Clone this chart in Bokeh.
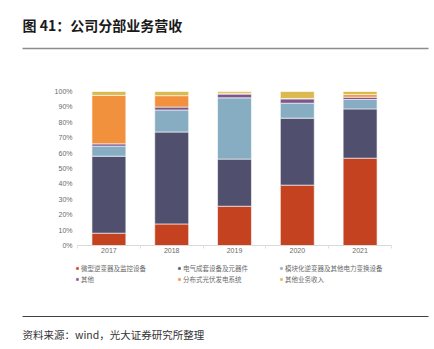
from bokeh.plotting import figure
from bokeh.models import (Range1d, Label, Legend, LegendItem, LinearAxis,
                          PrintfTickFormatter, FixedTicker)
from bokeh.embed import file_html
from bokeh.resources import INLINE

# ---- data ----
years = [2017, 2018, 2019, 2020, 2021]
series_names = ["微型逆变器及监控设备", "电气成套设备及元器件", "模块化逆变器及其他电力变换设备",
                "其他", "分布式光伏发电系统", "其他业务收入"]
micro_inverter = [8.0, 14.0, 25.5, 39.2, 56.7]
electrical = [50.0, 59.7, 30.6, 43.5, 32.0]
modular = [6.5, 14.3, 39.8, 9.7, 6.1]
other = [1.5, 1.9, 2.4, 2.8, 1.5]
pv_system = [31.5, 7.4, 0.6, 0.3, 1.7]
other_income = [2.5, 2.7, 1.1, 4.5, 2.0]
y_ticks = [0, 10, 20, 30, 40, 50, 60, 70, 80, 90, 100]

colors = ["#C4421F", "#50506E", "#86ADC1", "#7D568B", "#F1913E", "#DCB94E"]
keys = ["s0", "s1", "s2", "s3", "s4", "s5"]
source = dict(year=years, s0=micro_inverter, s1=electrical, s2=modular,
              s3=other, s4=pv_system, s5=other_income)

CJK = "Noto Sans CJK SC"
W, H = 434, 349
LABEL_GRAY = "#6a6a6a"

# plot area placement (page pixels): categories span x 77..391, 0%..100% span y 245..91
px_per_cat = (391 - 77) / len(years)
x_start = years[0] - 0.5 - 77 / px_per_cat
x_end = years[-1] + 0.5 + (W - 391) / px_per_cat
px_per_pct = (245 - 91) / 100
y_start = -(H - 245) / px_per_pct
y_end = 100 + 91 / px_per_pct

p = figure(width=W, height=H, x_range=Range1d(x_start, x_end),
           y_range=Range1d(y_start, y_end), output_backend="svg",
           toolbar_location=None, min_border=0,
           x_axis_location=None, y_axis_location=None)
p.outline_line_color = None
p.grid.visible = False
p.extra_x_ranges = {"px": Range1d(0, W)}
p.extra_y_ranges = {"py": Range1d(H, 0)}

rs = p.vbar_stack(keys, x="year", width=0.54, color=colors, source=source,
                  line_color="white", line_width=0.6)

# baseline of the category axis
left_edge = years[0] - 0.5
right_edge = years[-1] + 0.5
p.segment(x0=[left_edge], y0=[0], x1=[right_edge], y1=[0], line_color="#d9d9d9", line_width=1)

# y axis
yax = LinearAxis(fixed_location=left_edge, ticker=FixedTicker(ticks=y_ticks),
                 formatter=PrintfTickFormatter(format="%d%%"))
yax.axis_line_color = None
yax.major_tick_line_color = None
yax.major_tick_in = 0
yax.major_tick_out = 0
yax.minor_tick_line_color = None
yax.major_label_text_font_size = "7px"
yax.major_label_text_color = LABEL_GRAY
yax.major_label_standoff = 5
p.add_layout(yax, "left")

# x axis (labels)
xax = LinearAxis(fixed_location=0, ticker=FixedTicker(ticks=years))
xax.axis_line_color = None
xax.major_tick_line_color = None
xax.major_tick_in = 0
xax.major_tick_out = 0
xax.minor_tick_line_color = None
xax.major_label_text_font_size = "7px"
xax.major_label_text_color = LABEL_GRAY
xax.major_label_standoff = 2
p.add_layout(xax, "below")

# x axis boundary tick marks
bounds = [y - 0.5 for y in years] + [right_edge]
tax = LinearAxis(fixed_location=0, ticker=FixedTicker(ticks=bounds))
tax.axis_line_color = None
tax.major_tick_line_color = "#e0e0e0"
tax.major_tick_in = 0
tax.major_tick_out = 3
tax.minor_tick_line_color = None
tax.major_label_text_alpha = 0
tax.major_label_text_font_size = "1px"
p.add_layout(tax, "below")

legend = Legend(items=[LegendItem(label=n, renderers=[r]) for n, r in zip(series_names, rs)],
                location=(75, H - 262 - 22), orientation="horizontal", ncols=3,
                glyph_width=4, glyph_height=4, label_standoff=2,
                label_width=96, label_height=11, spacing=0, padding=0, margin=0,
                label_text_font=CJK, label_text_font_size="6.5px",
                label_text_color=LABEL_GRAY, border_line_color=None,
                background_fill_alpha=0)
p.add_layout(legend)

# header
p.add_layout(Label(x=22, y=H - 24, x_units="screen", y_units="screen",
                   text="图 41：公司分部业务营收", text_font=CJK,
                   text_font_size="14px", text_font_style="bold",
                   text_color="#1a1a1a", text_baseline="middle"))
p.segment(x0=[22], y0=[48], x1=[428], y1=[48], line_color="#8c8c8c", line_width=1.5,
          x_range_name="px", y_range_name="py")

# footer
p.segment(x0=[22], y0=[316], x1=[428], y1=[316], line_color="#404040", line_width=1,
          x_range_name="px", y_range_name="py")
p.add_layout(Label(x=22, y=H - 334, x_units="screen", y_units="screen",
                   text="资料来源：wind，光大证券研究所整理", text_font=CJK,
                   text_font_size="10.5px", text_color="#333333",
                   text_baseline="middle"))

open("out.html", "w").write(file_html(p, INLINE))
